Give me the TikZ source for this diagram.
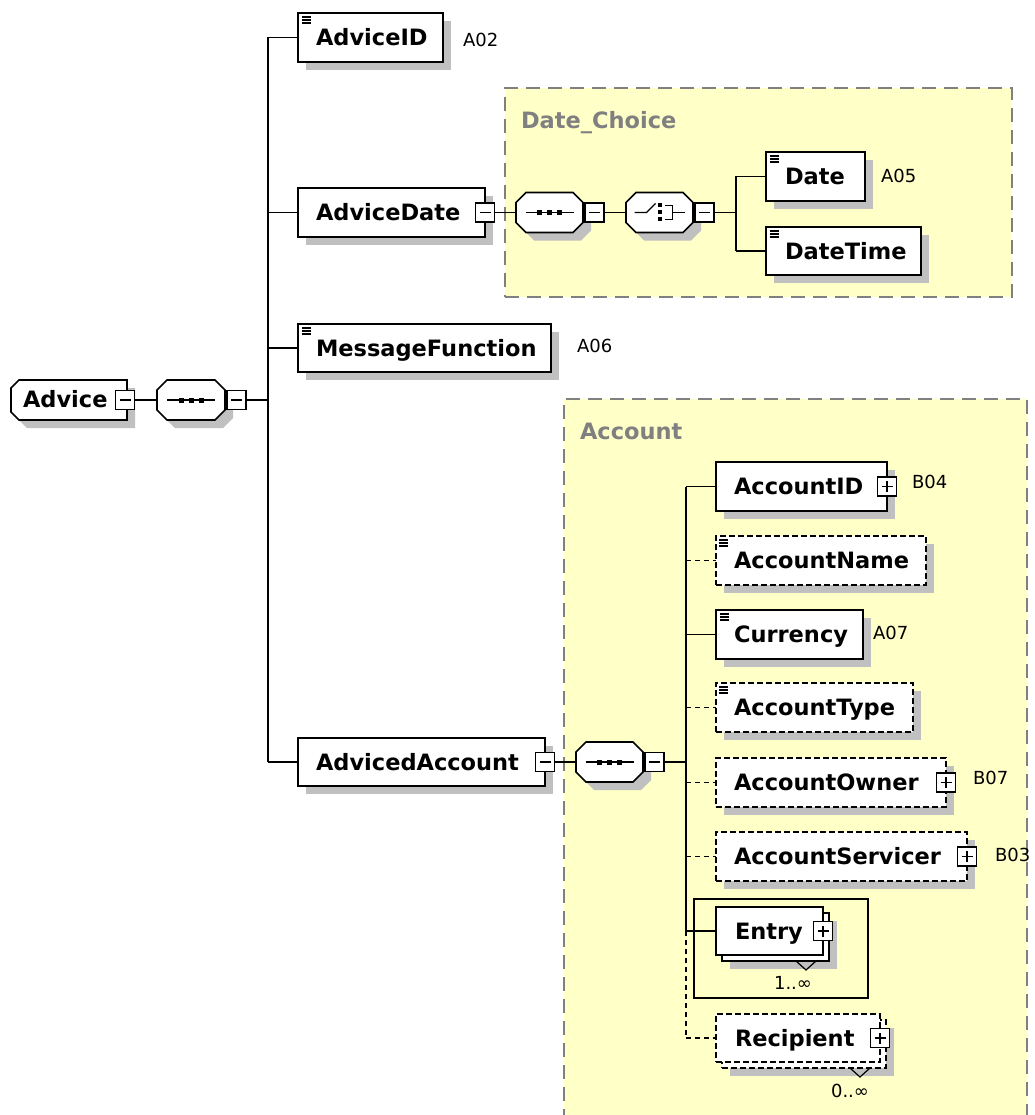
\documentclass[tikz,border=0pt]{standalone}
\usepackage{fontspec}
\setmainfont{DejaVu Sans}
\usetikzlibrary{calc}

\definecolor{grpfill}{RGB}{255,255,200}
\definecolor{grpline}{RGB}{128,128,128}
\definecolor{shadowgray}{RGB}{192,192,192}

\tikzset{
  every node/.style={inner sep=0pt, outer sep=0pt},
  shadowed/.style={preaction={fill=shadowgray, draw=none, transform canvas={shift={(8pt,-8pt)}}}},
  elbox/.style={draw=black, line width=1.6pt, fill=white, shadowed, anchor=north west},
  plainbox/.style={draw=black, line width=1.6pt, fill=white, anchor=north west},
  optbox/.style={elbox, dash pattern=on 6pt off 3pt},
  optplain/.style={plainbox, dash pattern=on 6pt off 3pt},
  compnode/.style={anchor=north west},
  pmbox/.style={draw=black, fill=white, line width=1.3pt, minimum width=19pt, minimum height=19pt},
  pmminus/.style={pmbox, path picture={\draw[line width=1.3pt]
    ([xshift=-5.5pt]path picture bounding box.center) -- ([xshift=5.5pt]path picture bounding box.center);}},
  pmplus/.style={pmbox, path picture={\draw[line width=1.3pt]
    ([xshift=-5.5pt]path picture bounding box.center) -- ([xshift=5.5pt]path picture bounding box.center)
    ([yshift=-5.5pt]path picture bounding box.center) -- ([yshift=5.5pt]path picture bounding box.center);}},
  grpbox/.style={draw=grpline, fill=grpfill, line width=2pt, dash pattern=on 14pt off 8pt, anchor=north west},
  grptitle/.style={anchor=base west, text=grpline, font=\fontsize{22.5}{27}\selectfont\bfseries},
  eltext/.style={anchor=base west, font=\fontsize{22.5}{27}\selectfont\bfseries},
  reftext/.style={anchor=base west, font=\fontsize{18}{20}\selectfont},
  multtext/.style={anchor=base, font=\fontsize{18}{20}\selectfont},
  conn/.style={line width=1.5pt},
  optconn/.style={line width=1.5pt, dash pattern=on 5pt off 4pt},
  frame/.style={draw=black, line width=1.3pt, anchor=north west},
  % octagonal compositor outline with its shadow (half width, half height)
  pics/octa/.style 2 args={code={
    \fill[shadowgray, shift={(8,8)}] (-#1+10,-#2) -- (#1-10,-#2) -- (#1,-#2+10) -- (#1,#2-10)
      -- (#1-10,#2) -- (-#1+10,#2) -- (-#1,#2-10) -- (-#1,-#2+10) -- cycle;
    \draw[line width=1.6pt, fill=white] (-#1+10,-#2) -- (#1-10,-#2) -- (#1,-#2+10) -- (#1,#2-10)
      -- (#1-10,#2) -- (-#1+10,#2) -- (-#1,#2-10) -- (-#1,-#2+10) -- cycle;}},
  % root element outline: chamfered on the left only
  pics/rootshape/.style 2 args={code={
    \fill[shadowgray, shift={(8,8)}] (-#1+8,-#2) -- (#1,-#2) -- (#1,#2) -- (-#1+8,#2) -- (-#1,#2-8) -- (-#1,-#2+8) -- cycle;
    \draw[line width=1.6pt, fill=white] (-#1+8,-#2) -- (#1,-#2) -- (#1,#2) -- (-#1+8,#2) -- (-#1,#2-8) -- (-#1,-#2+8) -- cycle;}},
  simpleicon/.pic={\draw[line width=1.3pt] (0,0) -- (9,0) (0,3) -- (9,3) (0,6) -- (9,6);},
  seqicon/.pic={\draw[line width=1.3pt] (-24,0) -- (24,0);
    \foreach \d in {-10,0,10} \fill (\d-2.5,-2.5) rectangle (\d+2.5,2.5);},
  choiceicon/.pic={\draw[line width=1.3pt] (-25,0) -- (-13,0) -- (-4,-9);
    \foreach \d in {-7,0,7} \fill (-1.5,\d-2) rectangle (2.5,\d+2);
    \draw[line width=1.3pt] (5.5,-7) -- (13,-7) -- (13,7) -- (5.5,7) (13,0) -- (25,0);},
  notch/.pic={\draw[line width=1.2pt] (-10,0) -- (0,9) -- (10,0);}
}

\begin{document}
\begin{tikzpicture}[x=1pt,y=-1pt]
\useasboundingbox (0,0) rectangle (1034,1115);
\fill[white] (0,0) rectangle (1034,1115);

% model groups
\node[grpbox, minimum width=507pt, minimum height=209pt] (datechoice) at (505,88) {};
\node[grptitle] (datechoice-t) at (521,129) {Date\_Choice};
\node[grpbox, minimum width=463pt, minimum height=740pt] (account) at (564,399) {};
\node[grptitle] (account-t) at (580,439) {Account};

% buses
\coordinate (bus1) at (268,400);
\coordinate (bus2) at (736,212.5);
\coordinate (bus3) at (686,762);

% ---------- root ----------
\node[compnode, minimum width=116pt, minimum height=40pt] (advice) at (11,380) {};
\pic at (advice.center) {rootshape={58}{20}};
\node[eltext] (advice-t) at ($(advice.west)+(12,7.5)$) {Advice};
\node[pmminus] (advice-m) at ([xshift=-2pt]advice.east) {};

\node[compnode, minimum width=68pt, minimum height=40pt] (seq1) at (157,380) {};
\pic at (seq1.center) {octa={34}{20}};
\pic at (seq1.center) {seqicon};
\node[pmminus, anchor=west] (seq1-m) at ([xshift=2pt]seq1.east) {};

% children of Advice
\draw[conn] (advice-m.east) -- (seq1.west);
\draw[conn] (seq1-m.east) -- (bus1);

\node[elbox, minimum width=145pt, minimum height=49pt] (adviceid) at (298,13) {};
\node[elbox, minimum width=187pt, minimum height=49pt] (advicedate) at (298,188) {};
\node[elbox, minimum width=253pt, minimum height=48pt] (msgfunc) at (298,324) {};
\node[elbox, minimum width=247pt, minimum height=48pt] (advacc) at (298,738) {};

\draw[conn] (bus1 |- adviceid.west) -- (bus1 |- advacc.west);
\foreach \n in {adviceid,advicedate,msgfunc,advacc}
  \draw[conn] (bus1 |- \n.west) -- (\n.west);

\node[eltext] (adviceid-t) at ($(adviceid.west)+(18,8)$) {AdviceID};
\pic at ($(adviceid.north west)+(4,4)$) {simpleicon};
\node[reftext] (adviceid-r) at (463,46.5) {A02};

\node[eltext] (advicedate-t) at ($(advicedate.west)+(18,8)$) {AdviceDate};
\node[pmminus] (advicedate-m) at (advicedate.east) {};

\node[eltext] (msgfunc-t) at ($(msgfunc.west)+(18,8)$) {MessageFunction};
\pic at ($(msgfunc.north west)+(4,4)$) {simpleicon};
\node[reftext] (msgfunc-r) at (577,352) {A06};

\node[eltext] (advacc-t) at ($(advacc.west)+(18,8)$) {AdvicedAccount};
\node[pmminus] (advacc-m) at (advacc.east) {};

% ---------- Date_Choice ----------
\node[compnode, minimum width=67pt, minimum height=40pt] (seq2) at (516,192.5) {};
\node[compnode, minimum width=67pt, minimum height=40pt] (choice) at (626,192.5) {};
\draw[conn] (advicedate-m.east) -- (seq2.west);

\pic at (seq2.center) {octa={33.5}{20}};
\pic at (seq2.center) {seqicon};
\node[pmminus, anchor=west] (seq2-m) at ([xshift=2pt]seq2.east) {};
\draw[conn] (seq2-m.east) -- (choice.west);

\pic at (choice.center) {octa={33.5}{20}};
\pic at (choice.center) {choiceicon};
\node[pmminus, anchor=west] (choice-m) at ([xshift=2pt]choice.east) {};

\node[elbox, minimum width=99pt, minimum height=49pt] (date) at (766,152) {};
\node[elbox, minimum width=155pt, minimum height=48pt] (datetime) at (766,227) {};

\draw[conn] (choice-m.east) -- (bus2);
\draw[conn] (bus2 |- date.west) -- (bus2 |- datetime.west);
\draw[conn] (bus2 |- date.west) -- (date.west);
\draw[conn] (bus2 |- datetime.west) -- (datetime.west);

\node[eltext] (date-t) at ($(date.west)+(19,8)$) {Date};
\pic at ($(date.north west)+(4,4)$) {simpleicon};
\node[reftext] (date-r) at (881,183) {A05};
\node[eltext] (datetime-t) at ($(datetime.west)+(19,8)$) {DateTime};
\pic at ($(datetime.north west)+(4,4)$) {simpleicon};

% ---------- Account ----------
\node[compnode, minimum width=67pt, minimum height=40pt] (seq3) at (576,742) {};
\draw[conn] (advacc-m.east) -- (seq3.west);
\pic at (seq3.center) {octa={33.5}{20}};
\pic at (seq3.center) {seqicon};
\node[pmminus, anchor=west] (seq3-m) at ([xshift=2pt]seq3.east) {};

\node[frame, minimum width=174pt, minimum height=99pt] (entry-frame) at (694,899) {};

\node[elbox, minimum width=171pt, minimum height=49pt] (accid) at (716,462) {};
\node[optbox, minimum width=210pt, minimum height=49pt] (accname) at (716,536) {};
\node[elbox, minimum width=147pt, minimum height=49pt] (currency) at (716,610) {};
\node[optbox, minimum width=197pt, minimum height=49pt] (acctype) at (716,683) {};
\node[optbox, minimum width=230pt, minimum height=49pt] (accowner) at (716,758) {};
\node[optbox, minimum width=251pt, minimum height=49pt] (accserv) at (716,832) {};
\node[elbox, minimum width=107pt, minimum height=48pt] (entry-back) at (722,913) {};
\node[plainbox, minimum width=107pt, minimum height=48pt] (entry) at (716,907) {};
\node[optbox, minimum width=164pt, minimum height=48pt] (recipient-back) at (722,1020) {};
\node[optplain, minimum width=164pt, minimum height=48pt] (recipient) at (716,1014) {};

\draw[conn] (seq3-m.east) -- (bus3);
\draw[conn] (bus3 |- accid.west) -- (bus3 |- entry.west);
\draw[optconn] (bus3 |- entry.west) -- (bus3 |- recipient.west);
\foreach \n in {accid,currency,entry}
  \draw[conn] (bus3 |- \n.west) -- (\n.west);
\foreach \n in {accname,acctype,accowner,accserv,recipient}
  \draw[optconn] (bus3 |- \n.west) -- (\n.west);

\node[eltext] (accid-t) at ($(accid.west)+(18,8)$) {AccountID};
\node[pmplus] (accid-p) at (accid.east) {};
\node[reftext] (accid-r) at (912,488) {B04};

\node[eltext] (accname-t) at ($(accname.west)+(18,8)$) {AccountName};
\pic at ($(accname.north west)+(3,4)$) {simpleicon};

\node[eltext] (currency-t) at ($(currency.west)+(18,8)$) {Currency};
\pic at ($(currency.north west)+(4,4)$) {simpleicon};
\node[reftext] (currency-r) at (873,639) {A07};

\node[eltext] (acctype-t) at ($(acctype.west)+(18,8)$) {AccountType};
\pic at ($(acctype.north west)+(3,4)$) {simpleicon};

\node[eltext] (accowner-t) at ($(accowner.west)+(18,8)$) {AccountOwner};
\node[pmplus] (accowner-p) at (accowner.east) {};
\node[reftext] (accowner-r) at (973,784) {B07};

\node[eltext] (accserv-t) at ($(accserv.west)+(18,8)$) {AccountServicer};
\node[pmplus] (accserv-p) at (accserv.east) {};
\node[reftext] (accserv-r) at (995,861) {B03};

\node[eltext] (entry-t) at ($(entry.west)+(19,8)$) {Entry};
\node[pmplus] (entry-p) at (entry.east) {};
\pic at ($(entry-back.south east)+(-23,0)$) {notch};
\node[multtext] (entry-m) at (793,989) {1..∞};

\node[eltext] (recipient-t) at ($(recipient.west)+(19,8)$) {Recipient};
\node[pmplus] (recipient-p) at (recipient.east) {};
\pic at ($(recipient-back.south east)+(-26,0)$) {notch};
\node[multtext] (recipient-m) at (850,1097) {0..∞};
\end{tikzpicture}
\end{document}
